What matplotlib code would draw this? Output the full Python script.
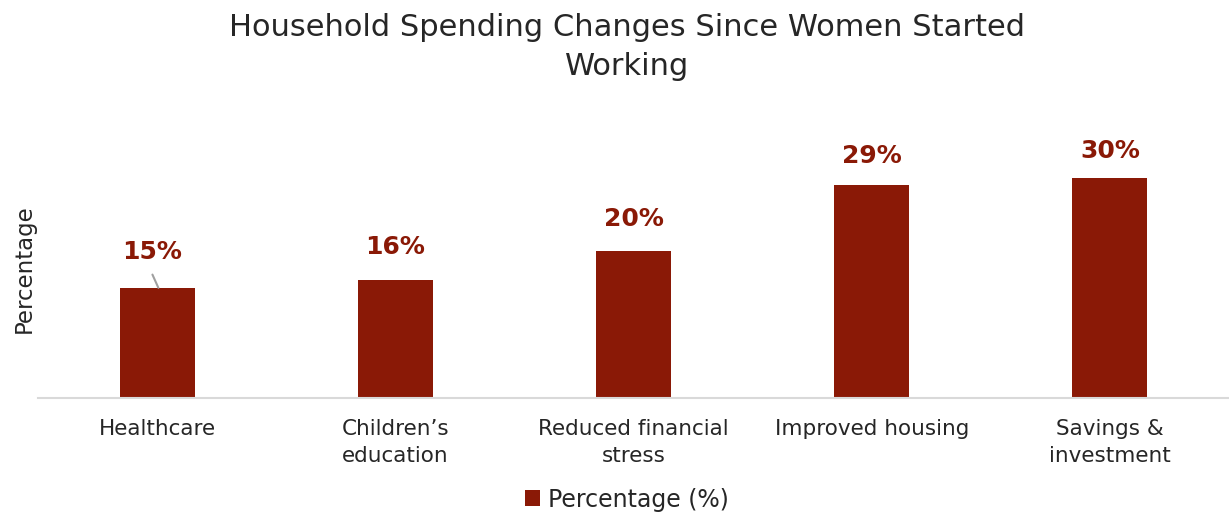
import matplotlib.pyplot as plt

categories = ['Healthcare', 'Children\u2019s\neducation', 'Reduced financial\nstress',
              'Improved housing', 'Savings &\ninvestment']
values = [15, 16, 20, 29, 30]
labels = ['15%', '16%', '20%', '29%', '30%']

bar_color = '#8a1906'
plt.rcParams['font.family'] = ['DejaVu Sans']

fig = plt.figure(figsize=(12.29, 5.15), dpi=100)
ax = fig.add_axes([0.031, 0.227, 0.969, 0.571])

x = range(len(categories))
bars = ax.bar(x, values, width=0.315, color=bar_color, label='Percentage (%)', zorder=2)

ax.set_xlim(-0.5, len(categories) - 0.5)
ax.set_ylim(0, 40)

# value labels above each bar; first one sits a bit higher with a leader line
offsets = [26, 24, 23, 21, 19]
for i, (v, lab) in enumerate(zip(values, labels)):
    ax.annotate(lab, (i, v), xytext=(-4 if i == 0 else 0, offsets[i]),
                textcoords='offset points', ha='center', va='center',
                fontsize=18, fontweight='bold', color=bar_color)
ax.annotate('', (0.005, values[0]), xytext=(-0.02, values[0] + 1.8),
            arrowprops=dict(arrowstyle='-', color='#a0a0a0', lw=1.5,
                            shrinkA=0, shrinkB=0))

ax.set_xticks(list(x))
ax.set_xticklabels(categories, fontsize=15.5, color='#262626', linespacing=1.45)
ax.tick_params(axis='x', length=0, pad=15)
ax.set_yticks([])
ax.set_ylabel('Percentage', fontsize=16.5, color='#262626')
ax.yaxis.set_label_coords(-0.002, 0.44)

for s in ['top', 'right', 'left']:
    ax.spines[s].set_visible(False)
ax.spines['bottom'].set_color('#d9d9d9')
ax.spines['bottom'].set_linewidth(1.5)

fig.suptitle('Household Spending Changes Since Women Started\nWorking',
             x=0.51, y=0.975, fontsize=22, color='#262626', linespacing=1.45)

fig.legend(handles=[bars], labels=['Percentage (%)'], loc='center', bbox_to_anchor=(0.51, 0.03),
           frameon=False, fontsize=17, handlelength=0.65, handleheight=0.65, handletextpad=0.35,
           labelcolor='#262626')

fig.savefig('out.png', dpi=100)
